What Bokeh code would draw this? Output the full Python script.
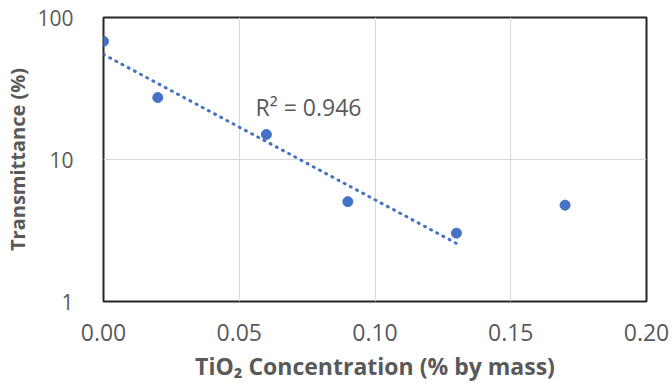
import numpy as np
from bokeh.plotting import figure
from bokeh.models import Range1d, FixedTicker, NumeralTickFormatter, Label, ColumnDataSource
from bokeh.embed import file_html
from bokeh.resources import INLINE

# Data
conc = [0.00, 0.02, 0.06, 0.09, 0.13, 0.17]
trans = [68.0, 27.3, 15.0, 5.05, 3.03, 4.77]
fit_n = 5  # trendline fitted to the first five points
x_ticks = [0.0, 0.05, 0.10, 0.15, 0.20]
y_ticks = [1, 10, 100]
r2_text = "R\u00b2 = 0.946"

GRAY = "#595959"
BLUE = "#4472C4"
FONT = "Open Sans"

p = figure(width=672, height=385, output_backend="svg", toolbar_location=None,
           y_axis_type="log",
           x_range=Range1d(0, 0.2), y_range=Range1d(1, 100),
           min_border_left=103, min_border_right=26, min_border_top=17, min_border_bottom=84)

p.outline_line_color = "#262626"
p.outline_line_width = 2

# axes
p.xaxis.ticker = FixedTicker(ticks=x_ticks)
p.xaxis.formatter = NumeralTickFormatter(format="0.00")
p.yaxis.ticker = FixedTicker(ticks=y_ticks)
p.yaxis.formatter = NumeralTickFormatter(format="0")
for ax in (p.xaxis, p.yaxis):
    ax.axis_line_color = None
    ax.major_tick_line_color = None
    ax.minor_tick_line_color = None
    ax.major_label_text_font = FONT
    ax.major_label_text_color = GRAY
    ax.axis_label_text_font = FONT
    ax.axis_label_text_font_style = "bold"
    ax.axis_label_text_color = GRAY
p.xaxis.major_label_text_font_size = "23px"
p.yaxis.major_label_text_font_size = "21px"
p.xaxis.axis_label_text_font_size = "23px"
p.yaxis.axis_label_text_font_size = "20px"
p.xaxis.axis_label = "TiO\u2082 Concentration (% by mass)"
p.yaxis.axis_label = "Transmittance (%)"
p.xaxis.major_label_standoff = 16
p.xaxis.axis_label_standoff = 6
p.yaxis.major_label_standoff = 24
p.yaxis.axis_label_standoff = 3

p.xgrid.grid_line_color = "#d9d9d9"
p.ygrid.grid_line_color = "#d9d9d9"
p.xgrid.grid_line_width = 1
p.ygrid.grid_line_width = 1

# exponential trendline fitted to first points
xf = np.array(conc[:fit_n])
yf = np.log(np.array(trans[:fit_n]))
b, a = np.polyfit(xf, yf, 1)
tx = np.array([xf.min(), xf.max()])
ty = np.exp(a + b * tx)
p.line(tx, ty, line_color=BLUE, line_width=3, line_dash="1 6", line_cap="round")

src = ColumnDataSource(dict(x=conc, y=trans))
p.scatter("x", "y", source=src, size=10, fill_color=BLUE, line_color=BLUE)

p.add_layout(Label(x=0.056, y=23.6, text=r2_text, text_font=FONT, text_font_size="23px",
                   text_color=GRAY, text_baseline="middle", text_align="left"))

open("out.html", "w").write(file_html(p, INLINE))
